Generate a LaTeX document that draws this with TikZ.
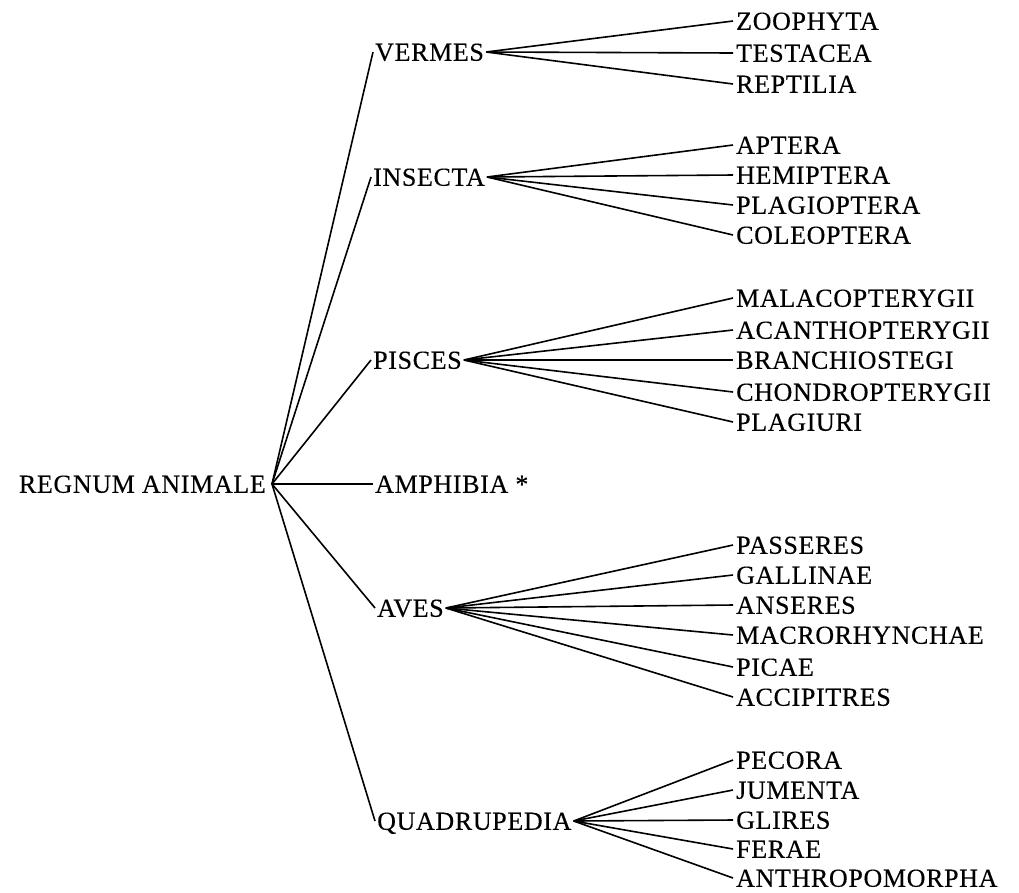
\documentclass[tikz,border=0pt]{standalone}
\usepackage{fontspec}
\setmainfont[FakeBold=0.3,LetterSpace=2.5]{Liberation Serif}
\begin{document}
\begin{tikzpicture}[x=1pt,y=-1pt,
  lbl/.style={inner xsep=2pt, inner ysep=0pt, text height=17.5pt, text depth=0pt, font=\fontsize{26}{31}\selectfont},
  leaf/.style={lbl, anchor=west, inner xsep=3pt},
  mid/.style={lbl, anchor=west},
  edge/.style={line width=1.6pt}]
\useasboundingbox (0,0) rectangle (1019,892);
% root
\node[lbl, anchor=east, inner xsep=6pt] (root) at (272,484) {REGNUM ANIMALE};
% level 1
\node[mid] (vermes) at (373,52) {VERMES};
\node[mid] (insecta) at (371,177) {INSECTA};
\node[mid] (pisces) at (371,360) {PISCES};
\node[mid] (amphibia) at (373,484) {AMPHIBIA *};
\node[mid] (aves) at (375,608) {AVES};
\node[mid] (quadrupedia) at (375,821) {QUADRUPEDIA};
% leaves
\node[leaf] (zoophyta) at (733,21) {ZOOPHYTA};
\node[leaf] (testacea) at (733,53) {TESTACEA};
\node[leaf] (reptilia) at (733,84) {REPTILIA};
\node[leaf] (aptera) at (733,145) {APTERA};
\node[leaf] (hemiptera) at (733,175) {HEMIPTERA};
\node[leaf] (plagioptera) at (733,205) {PLAGIOPTERA};
\node[leaf] (coleoptera) at (733,235) {COLEOPTERA};
\node[leaf] (malacopterygii) at (733,298) {MALACOPTERYGII};
\node[leaf] (acanthopterygii) at (733,330) {ACANTHOPTERYGII};
\node[leaf] (branchiostegi) at (733,360) {BRANCHIOSTEGI};
\node[leaf] (chondropterygii) at (733,392) {CHONDROPTERYGII};
\node[leaf] (plagiuri) at (733,422) {PLAGIURI};
\node[leaf] (passeres) at (733,545) {PASSERES};
\node[leaf] (gallinae) at (733,575) {GALLINAE};
\node[leaf] (anseres) at (733,605) {ANSERES};
\node[leaf] (macrorhynchae) at (733,635) {MACRORHYNCHAE};
\node[leaf] (picae) at (733,667) {PICAE};
\node[leaf] (accipitres) at (733,697) {ACCIPITRES};
\node[leaf] (pecora) at (733,760) {PECORA};
\node[leaf] (jumenta) at (733,790) {JUMENTA};
\node[leaf] (glires) at (733,820) {GLIRES};
\node[leaf] (ferae) at (733,849) {FERAE};
\node[leaf] (anthropomorpha) at (733,878) {ANTHROPOMORPHA};
% edges
\foreach \n in {vermes,insecta,pisces,amphibia,aves,quadrupedia}
  \draw[edge] (root.east) -- (\n.west);
\foreach \n in {zoophyta,testacea,reptilia}
  \draw[edge] (vermes.east) -- (\n.west);
\foreach \n in {aptera,hemiptera,plagioptera,coleoptera}
  \draw[edge] (insecta.east) -- (\n.west);
\foreach \n in {malacopterygii,acanthopterygii,branchiostegi,chondropterygii,plagiuri}
  \draw[edge] (pisces.east) -- (\n.west);
\foreach \n in {passeres,gallinae,anseres,macrorhynchae,picae,accipitres}
  \draw[edge] (aves.east) -- (\n.west);
\foreach \n in {pecora,jumenta,glires,ferae,anthropomorpha}
  \draw[edge] (quadrupedia.east) -- (\n.west);
\end{tikzpicture}
\end{document}
